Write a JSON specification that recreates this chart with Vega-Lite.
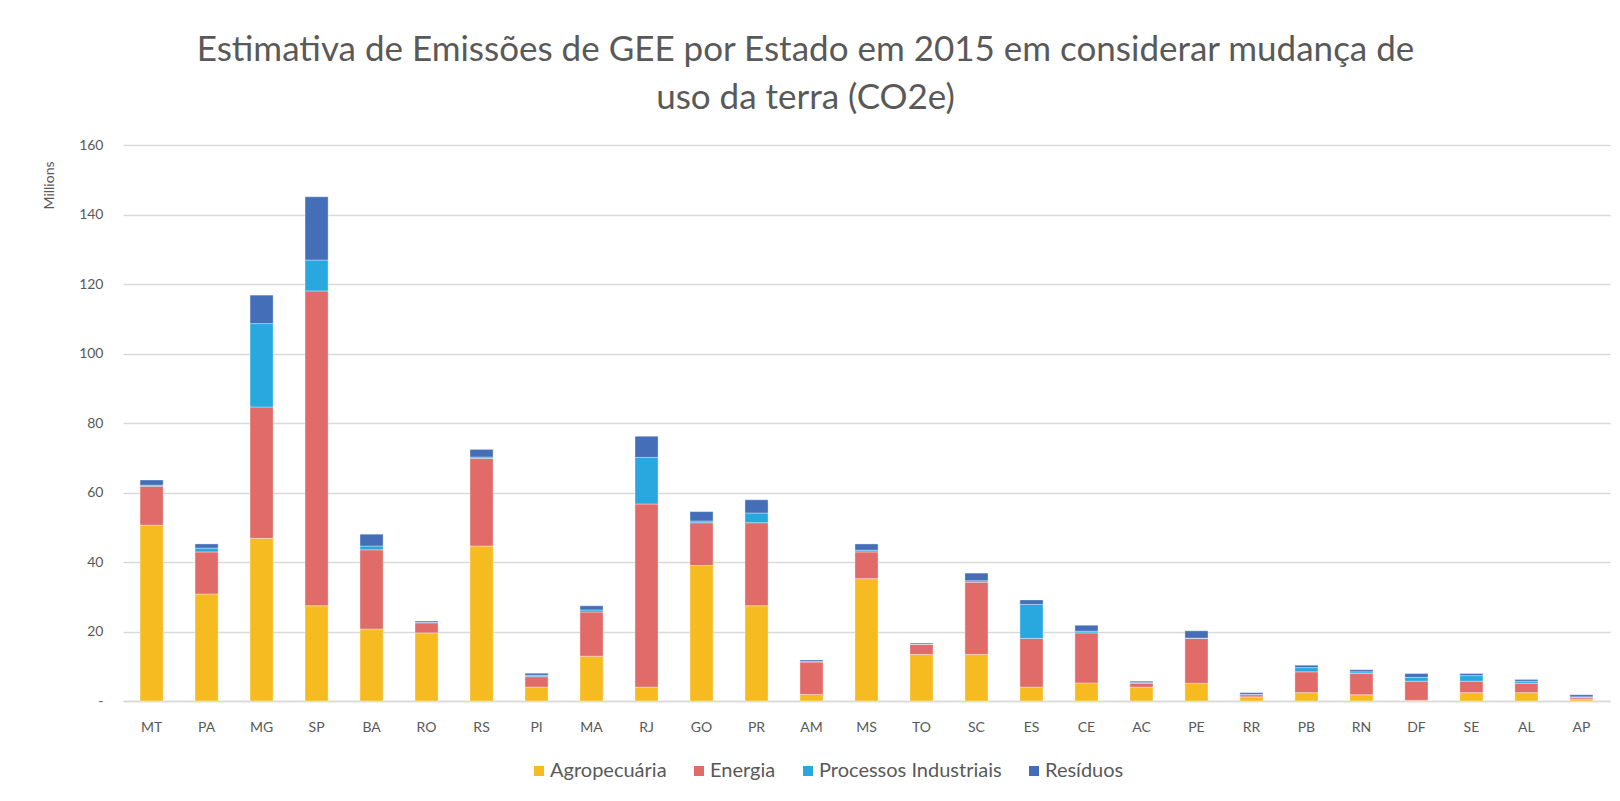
{
  "$schema": "https://vega.github.io/schema/vega-lite/v6.json",
  "autosize": "none",
  "width": 1487,
  "height": 556,
  "padding": {"left": 123, "top": 145, "right": 10, "bottom": 100},
  "background": "white",
  "title": {
    "text": ["Estimativa de Emissões de GEE por Estado em 2015 em considerar mudança de", "uso da terra (CO2e)"],
    "font": "Lato",
    "fontSize": 35,
    "fontWeight": "normal",
    "color": "#595959",
    "lineHeight": 48,
    "anchor": "middle",
    "dx": -61,
    "offset": 22
  },
  "data": {
    "values": [
      {"s":"MT","c":"Agropecuária","v":50.6},{"s":"MT","c":"Energia","v":11.2},{"s":"MT","c":"Processos Industriais","v":0.3},{"s":"MT","c":"Resíduos","v":1.5},
      {"s":"PA","c":"Agropecuária","v":30.8},{"s":"PA","c":"Energia","v":12.1},{"s":"PA","c":"Processos Industriais","v":1.1},{"s":"PA","c":"Resíduos","v":1.2},
      {"s":"MG","c":"Agropecuária","v":46.8},{"s":"MG","c":"Energia","v":37.8},{"s":"MG","c":"Processos Industriais","v":24.0},{"s":"MG","c":"Resíduos","v":8.2},
      {"s":"SP","c":"Agropecuária","v":27.4},{"s":"SP","c":"Energia","v":90.6},{"s":"SP","c":"Processos Industriais","v":8.9},{"s":"SP","c":"Resíduos","v":18.2},
      {"s":"BA","c":"Agropecuária","v":20.7},{"s":"BA","c":"Energia","v":22.8},{"s":"BA","c":"Processos Industriais","v":1.1},{"s":"BA","c":"Resíduos","v":3.4},
      {"s":"RO","c":"Agropecuária","v":19.6},{"s":"RO","c":"Energia","v":2.9},{"s":"RO","c":"Processos Industriais","v":0.1},{"s":"RO","c":"Resíduos","v":0.4},
      {"s":"RS","c":"Agropecuária","v":44.6},{"s":"RS","c":"Energia","v":25.2},{"s":"RS","c":"Processos Industriais","v":0.4},{"s":"RS","c":"Resíduos","v":2.2},
      {"s":"PI","c":"Agropecuária","v":4.0},{"s":"PI","c":"Energia","v":3.0},{"s":"PI","c":"Processos Industriais","v":0.4},{"s":"PI","c":"Resíduos","v":0.6},
      {"s":"MA","c":"Agropecuária","v":12.9},{"s":"MA","c":"Energia","v":12.7},{"s":"MA","c":"Processos Industriais","v":0.6},{"s":"MA","c":"Resíduos","v":1.2},
      {"s":"RJ","c":"Agropecuária","v":4.0},{"s":"RJ","c":"Energia","v":52.7},{"s":"RJ","c":"Processos Industriais","v":13.4},{"s":"RJ","c":"Resíduos","v":6.1},
      {"s":"GO","c":"Agropecuária","v":39.0},{"s":"GO","c":"Energia","v":12.3},{"s":"GO","c":"Processos Industriais","v":0.5},{"s":"GO","c":"Resíduos","v":2.7},
      {"s":"PR","c":"Agropecuária","v":27.4},{"s":"PR","c":"Energia","v":23.9},{"s":"PR","c":"Processos Industriais","v":2.8},{"s":"PR","c":"Resíduos","v":3.8},
      {"s":"AM","c":"Agropecuária","v":1.9},{"s":"AM","c":"Energia","v":9.3},{"s":"AM","c":"Processos Industriais","v":0.2},{"s":"AM","c":"Resíduos","v":0.4},
      {"s":"MS","c":"Agropecuária","v":35.2},{"s":"MS","c":"Energia","v":7.7},{"s":"MS","c":"Processos Industriais","v":0.5},{"s":"MS","c":"Resíduos","v":1.8},
      {"s":"TO","c":"Agropecuária","v":13.4},{"s":"TO","c":"Energia","v":2.9},{"s":"TO","c":"Processos Industriais","v":0.1},{"s":"TO","c":"Resíduos","v":0.3},
      {"s":"SC","c":"Agropecuária","v":13.4},{"s":"SC","c":"Energia","v":20.8},{"s":"SC","c":"Processos Industriais","v":0.4},{"s":"SC","c":"Resíduos","v":2.2},
      {"s":"ES","c":"Agropecuária","v":4.0},{"s":"ES","c":"Energia","v":14.0},{"s":"ES","c":"Processos Industriais","v":9.8},{"s":"ES","c":"Resíduos","v":1.3},
      {"s":"CE","c":"Agropecuária","v":5.2},{"s":"CE","c":"Energia","v":14.4},{"s":"CE","c":"Processos Industriais","v":0.5},{"s":"CE","c":"Resíduos","v":1.7},
      {"s":"AC","c":"Agropecuária","v":4.0},{"s":"AC","c":"Energia","v":1.1},{"s":"AC","c":"Processos Industriais","v":0.2},{"s":"AC","c":"Resíduos","v":0.4},
      {"s":"PE","c":"Agropecuária","v":5.1},{"s":"PE","c":"Energia","v":12.9},{"s":"PE","c":"Processos Industriais","v":0.1},{"s":"PE","c":"Resíduos","v":2.1},
      {"s":"RR","c":"Agropecuária","v":1.2},{"s":"RR","c":"Energia","v":0.6},{"s":"RR","c":"Processos Industriais","v":0.1},{"s":"RR","c":"Resíduos","v":0.5},
      {"s":"PB","c":"Agropecuária","v":2.4},{"s":"PB","c":"Energia","v":6.0},{"s":"PB","c":"Processos Industriais","v":1.2},{"s":"PB","c":"Resíduos","v":0.7},
      {"s":"RN","c":"Agropecuária","v":1.8},{"s":"RN","c":"Energia","v":6.1},{"s":"RN","c":"Processos Industriais","v":0.5},{"s":"RN","c":"Resíduos","v":0.6},
      {"s":"DF","c":"Agropecuária","v":0.2},{"s":"DF","c":"Energia","v":5.5},{"s":"DF","c":"Processos Industriais","v":1.1},{"s":"DF","c":"Resíduos","v":1.1},
      {"s":"SE","c":"Agropecuária","v":2.4},{"s":"SE","c":"Energia","v":3.3},{"s":"SE","c":"Processos Industriais","v":1.6},{"s":"SE","c":"Resíduos","v":0.6},
      {"s":"AL","c":"Agropecuária","v":2.4},{"s":"AL","c":"Energia","v":2.7},{"s":"AL","c":"Processos Industriais","v":0.6},{"s":"AL","c":"Resíduos","v":0.5},
      {"s":"AP","c":"Agropecuária","v":0.6},{"s":"AP","c":"Energia","v":0.5},{"s":"AP","c":"Processos Industriais","v":0.1},{"s":"AP","c":"Resíduos","v":0.6}
    ]
  },
  "mark": {"type": "bar", "stroke": "white", "strokeWidth": 0.6, "strokeOpacity": 0.6},
  "encoding": {
    "x": {
      "field": "s",
      "type": "nominal",
      "sort": ["MT","PA","MG","SP","BA","RO","RS","PI","MA","RJ","GO","PR","AM","MS","TO","SC","ES","CE","AC","PE","RR","PB","RN","DF","SE","AL","AP"],
      "scale": {"paddingInner": 0.58, "paddingOuter": 0.31},
      "axis": {
        "title": null,
        "labelAngle": 0,
        "labelFont": "Lato",
        "labelFontSize": 14,
        "labelColor": "#595959",
        "labelPadding": 19,
        "ticks": false,
        "domainColor": "#D9D9D9",
        "domainWidth": 1.5
      }
    },
    "y": {
      "field": "v",
      "type": "quantitative",
      "stack": "zero",
      "scale": {"domain": [0, 160], "nice": false},
      "axis": {
        "title": "Millions",
        "titleFont": "Lato",
        "titleFontSize": 14,
        "titleFontWeight": "normal",
        "titleColor": "#595959",
        "titleAngle": -90,
        "titleX": -74,
        "titleY": 40,
        "titleAlign": "center",
        "titleBaseline": "middle",
        "values": [0, 20, 40, 60, 80, 100, 120, 140, 160],
        "labelExpr": "datum.value == 0 ? '-' : datum.label",
        "labelFont": "Lato",
        "labelFontSize": 14,
        "labelColor": "#595959",
        "labelPadding": 20,
        "ticks": false,
        "domain": false,
        "grid": true,
        "gridColor": "#D9D9D9",
        "gridWidth": 1.5
      }
    },
    "color": {
      "field": "c",
      "type": "nominal",
      "scale": {
        "domain": ["Agropecuária", "Energia", "Processos Industriais", "Resíduos"],
        "range": ["#F6BB21", "#E06B68", "#29A8E0", "#446EB8"]
      },
      "legend": {
        "title": null,
        "orient": "none",
        "direction": "horizontal",
        "legendX": 406,
        "legendY": 616,
        "symbolType": "square",
        "symbolSize": 100,
        "symbolStrokeWidth": 0,
        "labelFont": "Lato",
        "labelFontSize": 20,
        "labelLimit": 400,
        "labelColor": "#595959",
        "labelOffset": 1,
        "columnPadding": 22
      }
    },
    "order": {"field": "c", "sort": "ascending"}
  },
  "config": {"view": {"stroke": null}}
}
